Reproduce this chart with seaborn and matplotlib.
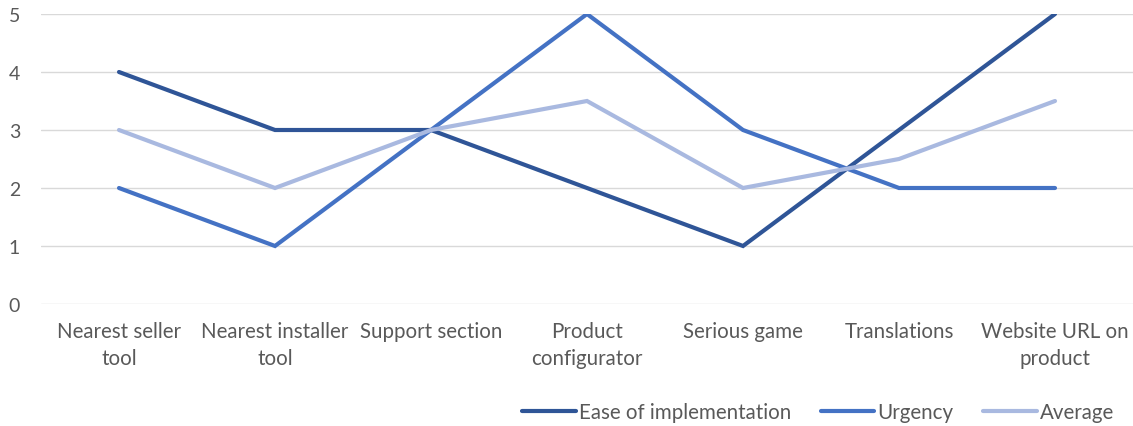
import matplotlib
matplotlib.use("Agg")
import matplotlib.pyplot as plt
import seaborn as sns
import pandas as pd
from matplotlib.lines import Line2D

categories = ["Nearest seller\ntool", "Nearest installer\ntool", "Support section",
              "Product\nconfigurator", "Serious game", "Translations", "Website URL on\nproduct"]
ease = [4, 3, 3, 2, 1, 3, 5]
urgency = [2, 1, 3, 5, 3, 2, 2]
average = [3, 2, 3, 3.5, 2, 2.5, 3.5]
series_names = ["Ease of implementation", "Urgency", "Average"]
colors = ["#2F5597", "#4472C4", "#A9B9E0"]

sns.set_style("white")
plt.rcParams['font.family'] = ['Lato', 'DejaVu Sans']

rows = []
for name, vals in zip(series_names, [ease, urgency, average]):
    for i, v in enumerate(vals):
        rows.append({"x": i, "value": v, "series": name})
df = pd.DataFrame(rows)

fig = plt.figure(figsize=(11.33, 4.27), dpi=100)
ax = fig.add_axes([41/1133, 122/427, 1092/1133, 290/427])

sns.lineplot(data=df, x="x", y="value", hue="series", hue_order=series_names,
             palette=colors, linewidth=3, ax=ax, legend=False, sort=False,
             solid_capstyle="round", solid_joinstyle="miter")

ax.set_xlim(-0.5, 6.5)
ax.set_ylim(0, 5)
ax.set_yticks(range(0, 6))
ax.set_xticks(range(len(categories)))
ax.set_xticklabels(categories, linespacing=1.45)
ax.set_xlabel("")
ax.set_ylabel("")
ax.grid(axis="y", color="#D9D9D9", linewidth=1)
ax.grid(axis="x", visible=False)
ax.set_axisbelow(True)
for s in ax.spines.values():
    s.set_visible(False)
ax.tick_params(axis="both", length=0, labelcolor="#595959")
ax.tick_params(axis="x", pad=12, labelsize=14.8)
ax.tick_params(axis="y", pad=15, labelsize=14)

handles = [Line2D([0], [0], color=c, linewidth=3) for c in colors]
fig.legend(handles, series_names, loc="center", bbox_to_anchor=(818/1133, 14/427),
           ncol=3, frameon=False, handlelength=2.6, handletextpad=0.15,
           columnspacing=1.45, fontsize=14.8, labelcolor="#595959")

fig.savefig("out.png", dpi=100)
